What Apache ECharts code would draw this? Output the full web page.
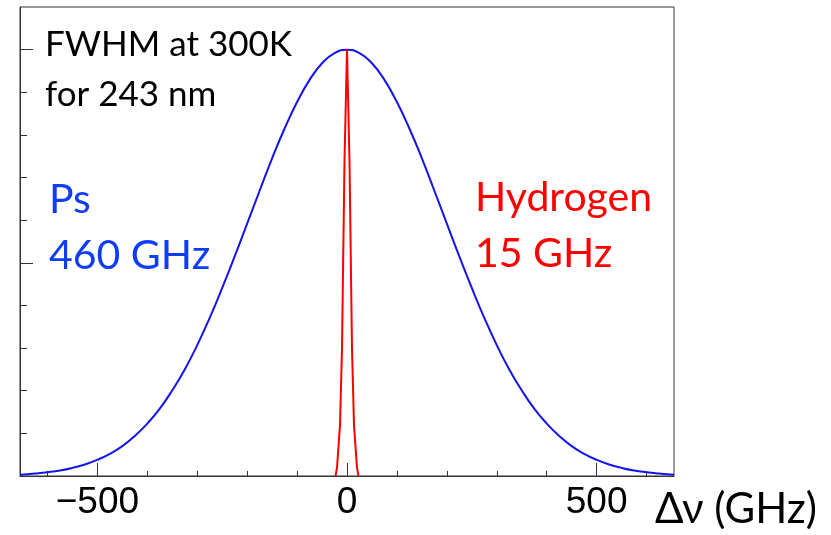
<!DOCTYPE html>
<html>
<head>
<meta charset="utf-8">
<script src="https://cdn.jsdelivr.net/npm/echarts@6/dist/echarts.min.js"></script>
<style>
  html, body { margin: 0; padding: 0; background: #fff; }
  #chart { width: 831px; height: 535px; }
</style>
</head>
<body>
<div id="chart"></div>
<script>
// Ps line profile (FWHM 460 GHz)
const psX = [-655, -625, -600, -575, -550, -525, -500, -475, -450, -425, -400, -375, -350, -325, -300, -275,
  -250, -225, -200, -175, -150, -125, -100, -75, -50, -25, 0,
  25, 50, 75, 100, 125, 150, 175, 200, 225, 250, 275, 300, 325, 350, 375, 400, 425, 450, 475, 500,
  525, 550, 575, 600, 625, 655];
const psY = [0.003, 0.006, 0.009, 0.013, 0.019, 0.027, 0.038, 0.052, 0.070, 0.094, 0.123, 0.158, 0.201, 0.250, 0.307, 0.371,
  0.441, 0.515, 0.592, 0.669, 0.745, 0.815, 0.877, 0.929, 0.968, 0.992, 1.0,
  0.992, 0.968, 0.929, 0.877, 0.815, 0.745, 0.669, 0.592, 0.515, 0.441, 0.371, 0.307, 0.250, 0.201, 0.158, 0.123, 0.094, 0.070, 0.052, 0.038,
  0.027, 0.019, 0.013, 0.009, 0.006, 0.003];

// Hydrogen line profile (FWHM 15 GHz)
const hX = [-23, -20, -14, -10, -5, 0, 5, 10, 14, 20, 23];
const hY = [0, 0.02, 0.12, 0.30, 0.74, 1.0, 0.74, 0.30, 0.12, 0.02, 0];

// tick positions
const xMajorTicks = [-500, 0, 500];
const xMinorTicks = [-600, -400, -300, -200, -100, 100, 200, 300, 400, 600];
const yMajorTicks = [0.5, 1.0];
const yMinorTicks = [0.1, 0.2, 0.3, 0.4, 0.6, 0.7, 0.8, 0.9];

const chart = echarts.init(document.getElementById('chart'));

const axisColor = '#333';
const xRange = { min: -655, max: 655 };
const yRange = { min: 0, max: 1.1 };

const option = {
  animation: false,
  grid: {
    left: 20, top: 7, width: 654, height: 469,
    show: true, borderColor: axisColor, borderWidth: 1, backgroundColor: '#fff'
  },
  xAxis: [
    {
      type: 'value', ...xRange, gridIndex: 0, position: 'bottom',
      axisLine: { show: true, onZero: false, lineStyle: { color: axisColor, width: 1 } },
      axisTick: { show: true, inside: true, length: 13, customValues: xMajorTicks, lineStyle: { color: axisColor } },
      axisLabel: {
        show: true, customValues: xMajorTicks, margin: 8,
        fontFamily: 'Liberation Sans', fontSize: 37, color: '#000',
        formatter: v => (v < 0 ? '\u2212' + Math.abs(v) : String(v))
      },
      splitLine: { show: false }
    },
    {
      type: 'value', ...xRange, gridIndex: 0, position: 'bottom',
      axisLine: { show: false, onZero: false },
      axisTick: { show: true, inside: true, length: 5, customValues: xMinorTicks, lineStyle: { color: axisColor } },
      axisLabel: { show: false },
      splitLine: { show: false }
    }
  ],
  yAxis: [
    {
      type: 'value', ...yRange, gridIndex: 0, position: 'left',
      axisLine: { show: true, onZero: false, lineStyle: { color: axisColor, width: 1 } },
      axisTick: { show: true, inside: true, length: 13, customValues: yMajorTicks, lineStyle: { color: axisColor } },
      axisLabel: { show: false },
      splitLine: { show: false }
    },
    {
      type: 'value', ...yRange, gridIndex: 0, position: 'left',
      axisLine: { show: false, onZero: false },
      axisTick: { show: true, inside: true, length: 7, customValues: yMinorTicks, lineStyle: { color: axisColor } },
      axisLabel: { show: false },
      splitLine: { show: false }
    }
  ],
  series: [
    {
      name: 'Ps', type: 'line', smooth: true, showSymbol: false,
      data: psX.map((x, i) => [x, psY[i]]),
      lineStyle: { color: '#1414e6', width: 2 }
    },
    {
      name: 'Hydrogen', type: 'line', smooth: false, showSymbol: false,
      data: hX.map((x, i) => [x, hY[i]]),
      lineStyle: { color: '#ff0000', width: 2 }
    }
  ],
  graphic: [
    { type: 'text', left: 45, top: 20, style: { text: 'FWHM at 300K\nfor 243 nm', font: '35px Lato', fill: '#000', lineHeight: 50 } },
    { type: 'text', left: 49, top: 172, style: { text: 'Ps\n460 GHz', font: '41px Lato', fill: '#0f3cf5', lineHeight: 56 } },
    { type: 'text', left: 475, top: 170, style: { text: 'Hydrogen\n15 GHz', font: '41px Lato', fill: '#ff0000', lineHeight: 56 } },
    { type: 'text', left: 655, top: 488, style: { text: '\u0394\u03bd (GHz)', font: '42px Lato', fill: '#000' } }
  ]
};

chart.setOption(option);
</script>
</body>
</html>
